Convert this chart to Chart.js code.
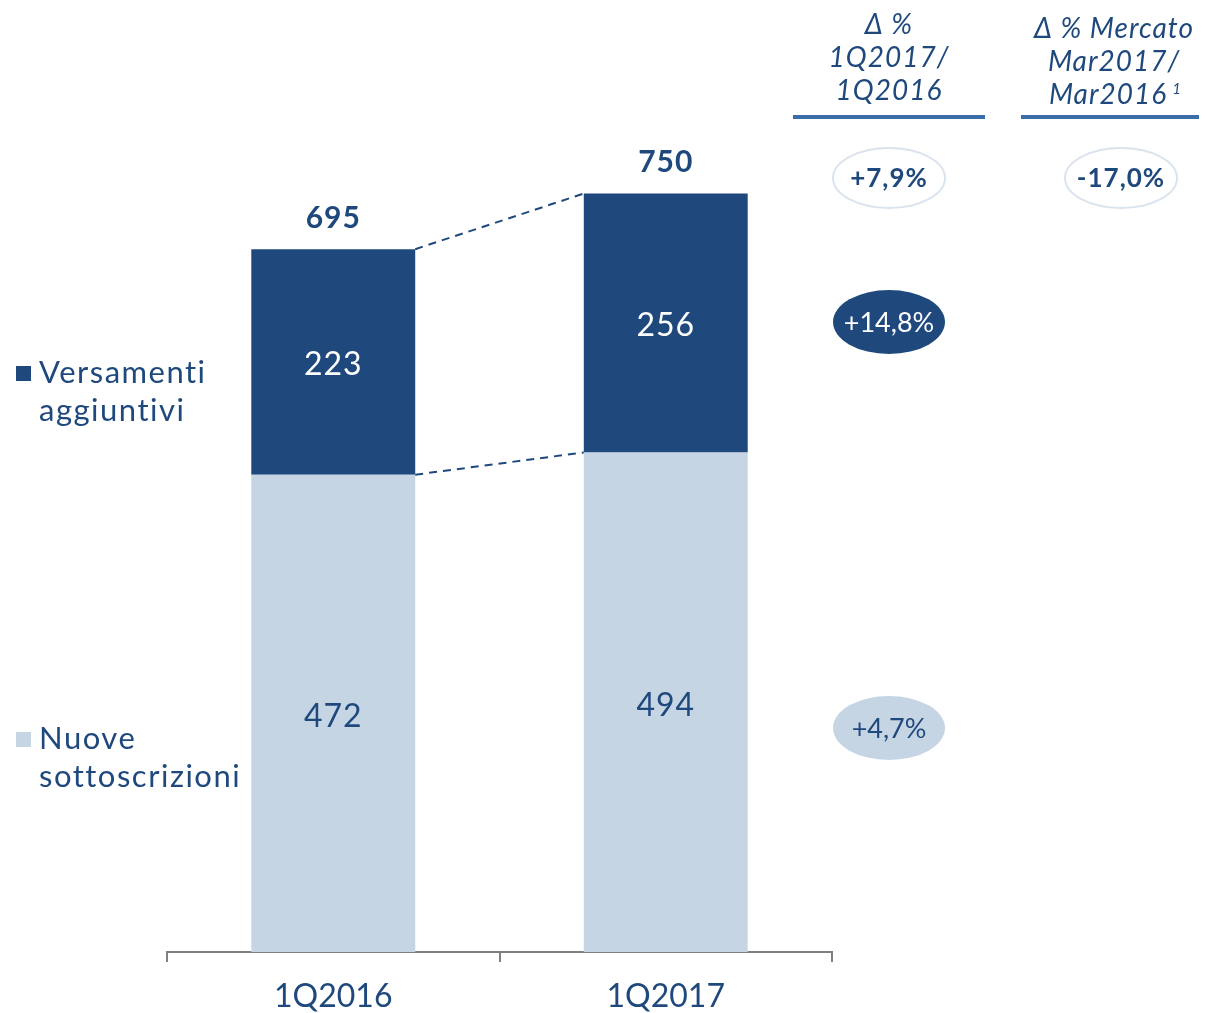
<!DOCTYPE html>
<html>
<head>
<meta charset="utf-8">
<script src="https://cdn.jsdelivr.net/npm/chart.js@4.4.1/dist/chart.umd.min.js"></script>
<style>
  html, body { margin: 0; padding: 0; background: #fff; }
  #wrap { width: 1207px; height: 1013px; position: relative; }
</style>
</head>
<body>
<div id="wrap"><canvas id="chart"></canvas></div>
<script>
// data
const categories = ["1Q2016", "1Q2017"];
const nuoveSottoscrizioni = [472, 494];
const versamentiAggiuntivi = [223, 256];
const seriesNames = [["Nuove", "sottoscrizioni"], ["Versamenti", "aggiuntivi"]];
const marketDelta = ["-17,0%"];
const headerLeft = ["\u0394 %", "1Q2017/", "1Q2016"];
const headerRight = ["\u0394 % Mercato", "Mar2017/", "Mar2016"];

const DARK = "#1f497d";
const LIGHT = "#c5d5e4";
const FONT = "Lato, 'Open Sans', sans-serif";

const totals = categories.map((_, i) => nuoveSottoscrizioni[i] + versamentiAggiuntivi[i]);
const pct = (a, b) => {
  const v = (b / a - 1) * 100;
  return (v >= 0 ? "+" : "") + v.toFixed(1).replace(".", ",") + "%";
};

function ellipse(ctx, cx, cy, rx, ry, fill, stroke) {
  ctx.beginPath();
  ctx.ellipse(cx, cy, rx, ry, 0, 0, Math.PI * 2);
  if (fill) { ctx.fillStyle = fill; ctx.fill(); }
  if (stroke) { ctx.strokeStyle = stroke; ctx.lineWidth = 2; ctx.stroke(); }
}

const overlay = {
  id: "overlay",
  afterDatasetsDraw(chart) {
    const ctx = chart.ctx;
    const low = chart.getDatasetMeta(0).data;
    const high = chart.getDatasetMeta(1).data;
    ctx.save();

    // value labels inside segments
    ctx.textAlign = "center";
    ctx.textBaseline = "middle";
    ctx.letterSpacing = "1px";
    ctx.font = "32px " + FONT;
    low.forEach((b, i) => {
      ctx.fillStyle = DARK;
      ctx.fillText(nuoveSottoscrizioni[i], b.x, (b.y + b.base) / 2 + 3);
    });
    high.forEach((b, i) => {
      ctx.fillStyle = "#ffffff";
      ctx.fillText(versamentiAggiuntivi[i], b.x, (b.y + b.base) / 2 + 3);
    });

    // totals
    ctx.font = "bold 30px " + FONT;
    ctx.fillStyle = DARK;
    high.forEach((b, i) => ctx.fillText(totals[i], b.x, b.y - 31));

    // dashed connectors
    ctx.setLineDash([8, 6]);
    ctx.lineWidth = 2;
    ctx.strokeStyle = DARK;
    for (let i = 0; i < high.length - 1; i++) {
      const a = high[i], c = high[i + 1];
      ctx.beginPath();
      ctx.moveTo(a.x + a.width / 2, a.y);
      ctx.lineTo(c.x - c.width / 2, c.y);
      ctx.moveTo(a.x + a.width / 2, a.base);
      ctx.lineTo(c.x - c.width / 2, c.base);
      ctx.stroke();
    }
    ctx.setLineDash([]);

    // legend on the left
    ctx.textAlign = "left";
    ctx.textBaseline = "middle";
    ctx.font = "31px " + FONT;
    ctx.letterSpacing = "1.5px";
    const legendY = [373, 739];
    [1, 0].forEach((ds) => {
      const y = ds === 1 ? legendY[0] : legendY[1];
      ctx.fillStyle = ds === 1 ? DARK : LIGHT;
      ctx.fillRect(16, y - 7, 15, 15);
      ctx.fillStyle = DARK;
      const lines = seriesNames[ds];
      ctx.fillText(lines[0], 39, y);
      ctx.fillText(lines[1], 39, y + 38);
    });

    // right-hand headers
    ctx.textAlign = "center";
    ctx.letterSpacing = "1px";
    ctx.font = "italic 28px " + FONT;
    ctx.fillStyle = DARK;
    headerLeft.forEach((t, i) => ctx.fillText(t, 889, 25 + i * 33));
    headerRight.forEach((t, i) => ctx.fillText(t, i === 2 ? 1108 : 1114, 29 + i * 33));
    const w = ctx.measureText(headerRight[2]).width;
    ctx.font = "italic 15px " + FONT;
    ctx.fillText("1", 1108 + w / 2 + 10, 89);

    ctx.fillStyle = "#3a6ea8";
    ctx.fillRect(793, 115, 192, 4);
    ctx.fillRect(1021, 115, 178, 4);

    // growth bubbles
    ellipse(ctx, 889, 178, 56, 30, "#ffffff", "#dbe4ee");
    ellipse(ctx, 1121, 178, 56, 30, "#ffffff", "#dbe4ee");
    ctx.font = "bold 26px " + FONT;
    ctx.fillStyle = DARK;
    ctx.fillText(pct(totals[0], totals[1]), 889, 179);
    ctx.fillText(marketDelta[0], 1121, 179);

    ellipse(ctx, 889, 322, 56, 32, DARK, null);
    ctx.font = "27px " + FONT;
    ctx.letterSpacing = "0px";
    ctx.fillStyle = "#ffffff";
    ctx.fillText(pct(versamentiAggiuntivi[0], versamentiAggiuntivi[1]), 889, 323);

    ellipse(ctx, 889, 728, 56, 32, LIGHT, null);
    ctx.fillStyle = DARK;
    ctx.fillText(pct(nuoveSottoscrizioni[0], nuoveSottoscrizioni[1]), 889, 729);

    ctx.restore();
  }
};

new Chart(document.getElementById("chart"), {
  type: "bar",
  data: {
    labels: categories,
    datasets: [
      { label: "Nuove sottoscrizioni", data: nuoveSottoscrizioni, backgroundColor: LIGHT },
      { label: "Versamenti aggiuntivi", data: versamentiAggiuntivi, backgroundColor: DARK }
    ]
  },
  options: {
    responsive: true,
    maintainAspectRatio: false,
    animation: false,
    barPercentage: 0.986,
    categoryPercentage: 0.5,
    layout: { padding: { left: 167, right: 375, top: 143, bottom: 0 } },
    plugins: { legend: { display: false }, tooltip: { enabled: false } },
    scales: {
      x: {
        stacked: true,
        afterFit: (s) => { s.height = 61; },
        grid: { offset: true, drawOnChartArea: false, tickLength: 10, color: "#808080", lineWidth: 2 },
        border: { display: true, color: "#808080", width: 2 },
        ticks: { color: DARK, font: { family: FONT, size: 32 }, padding: 15 }
      },
      y: {
        stacked: true,
        display: false,
        min: 0,
        max: 800
      }
    }
  },
  plugins: [overlay]
});
</script>
</body>
</html>
